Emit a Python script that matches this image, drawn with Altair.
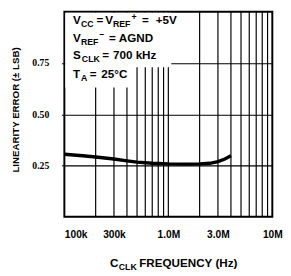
import altair as alt
import pandas as pd

# ---- data ----
freq_hz = [1e5, 1.5e5, 2e5, 3e5, 4e5, 5e5, 7e5, 1e6, 1.5e6, 2e6, 2.5e6, 3e6, 3.5e6, 4e6]
lin_err = [0.305, 0.298, 0.292, 0.282, 0.273, 0.267, 0.261, 0.258, 0.257, 0.258, 0.261, 0.269, 0.282, 0.298]

grid_freq = [2e5, 3e5, 4e5, 5e5, 6e5, 7e5, 8e5, 9e5, 1e6,
             2e6, 3e6, 4e6, 5e6, 6e6, 7e6, 8e6, 9e6]
x_tick_values = [100000, 300000, 1000000, 3000000, 10000000]
x_tick_labels = ["100k", "300k", "1.0M", "3.0M", "10M"]
y_tick_values = [0.25, 0.5, 0.75]

y_title = "LINEARITY ERROR (\u00b1 LSB)"

# annotation segments: (text, x px, y px baseline, font size)
notes = [
    ("V", 9, 13, 12), ("CC", 17, 16, 9), ("=", 33, 13, 12), ("V", 42, 13, 12),
    ("REF", 50, 16, 9), ("+", 69, 8, 9), ("=", 80, 13, 12), ("+5V", 94, 13, 12),
    ("V", 9, 31, 12), ("REF", 17, 34, 9), ("\u2013", 36, 26, 9), ("=", 46, 31, 12),
    ("AGND", 56, 31, 12),
    ("S", 9, 49, 12), ("CLK", 18, 52, 9), ("=", 39, 49, 12), ("700 kHz", 50, 49, 12),
    ("T", 9, 68, 12), ("A", 17, 71, 9), ("=", 26, 68, 12), ("25\u00b0C", 38, 68, 12),
    # x-axis title
    ("C", 47, 263, 12), ("CLK", 56, 266, 9), ("FREQUENCY (Hz)", 77, 263, 12),
]

W, H = 214, 211
FONT = "Liberation Sans"

xscale = alt.Scale(type="log", domain=[1e5, 1e7])
yscale = alt.Scale(domain=[0, 1])

label_expr = "{}[indexof({}, datum.value)]".format(
    "[" + ",".join("'%s'" % s for s in x_tick_labels) + "]",
    "[" + ",".join(str(v) for v in x_tick_values) + "]",
)

xaxis = alt.Axis(values=x_tick_values, labelExpr=label_expr, grid=False, domain=False,
                 ticks=False, labelPadding=13, labelFont=FONT, labelFontSize=10.5,
                 labelFontWeight="bold", labelColor="black", title=None,
                 labelAlign={"condition": {"test": "datum.value <= 100000", "value": "left"},
                             "value": "center"})
yaxis = alt.Axis(values=y_tick_values, format=".2f", grid=True, gridColor="black",
                 gridWidth=1.2, gridOpacity=1, domain=False, tickSize=3, tickColor="black",
                 tickWidth=1, labelPadding=13, labelFont="Liberation Sans Narrow",
                 labelFontSize=10, labelFontWeight="bold", labelColor="black", title=None)

grid = alt.Chart(pd.DataFrame({"f": grid_freq})).mark_rule(
    color="black", strokeWidth=1.2).encode(x=alt.X("f:Q", scale=xscale, axis=xaxis))

one = pd.DataFrame({"k": [0]})
mask1 = alt.Chart(one).mark_rect(color="white").encode(
    x=alt.value(1), x2=alt.value(110), y=alt.value(1), y2=alt.value(57))
mask2 = alt.Chart(one).mark_rect(color="white").encode(
    x=alt.value(1), x2=alt.value(70), y=alt.value(56), y2=alt.value(78))

curve_df = pd.DataFrame({"f": freq_hz, "e": lin_err})
curve = alt.Chart(curve_df).mark_line(color="black", strokeWidth=3.5).encode(
    x=alt.X("f:Q", scale=xscale, axis=xaxis),
    y=alt.Y("e:Q", scale=yscale, axis=yaxis),
)

layers = [grid, mask1, mask2, curve]
for txt, px, py, fs in notes:
    layers.append(
        alt.Chart(one).mark_text(text=txt, font=FONT, fontWeight="bold", fontSize=fs,
                                 align="left", baseline="alphabetic", color="black")
        .encode(x=alt.value(px), y=alt.value(py))
    )

layers.append(
    alt.Chart(one).mark_text(text=y_title, font=FONT, fontWeight="bold", fontSize=10,
                             align="center", baseline="middle", angle=270, color="black")
    .encode(x=alt.value(-50), y=alt.value(101))
)

chart = alt.layer(*layers).properties(
    width=W, height=H, autosize="none",
    padding={"left": 58, "top": 0, "right": 11, "bottom": 57},
).configure_view(stroke="black", strokeWidth=2)

chart.save("out.html", embed_options={"renderer": "svg", "actions": False})
